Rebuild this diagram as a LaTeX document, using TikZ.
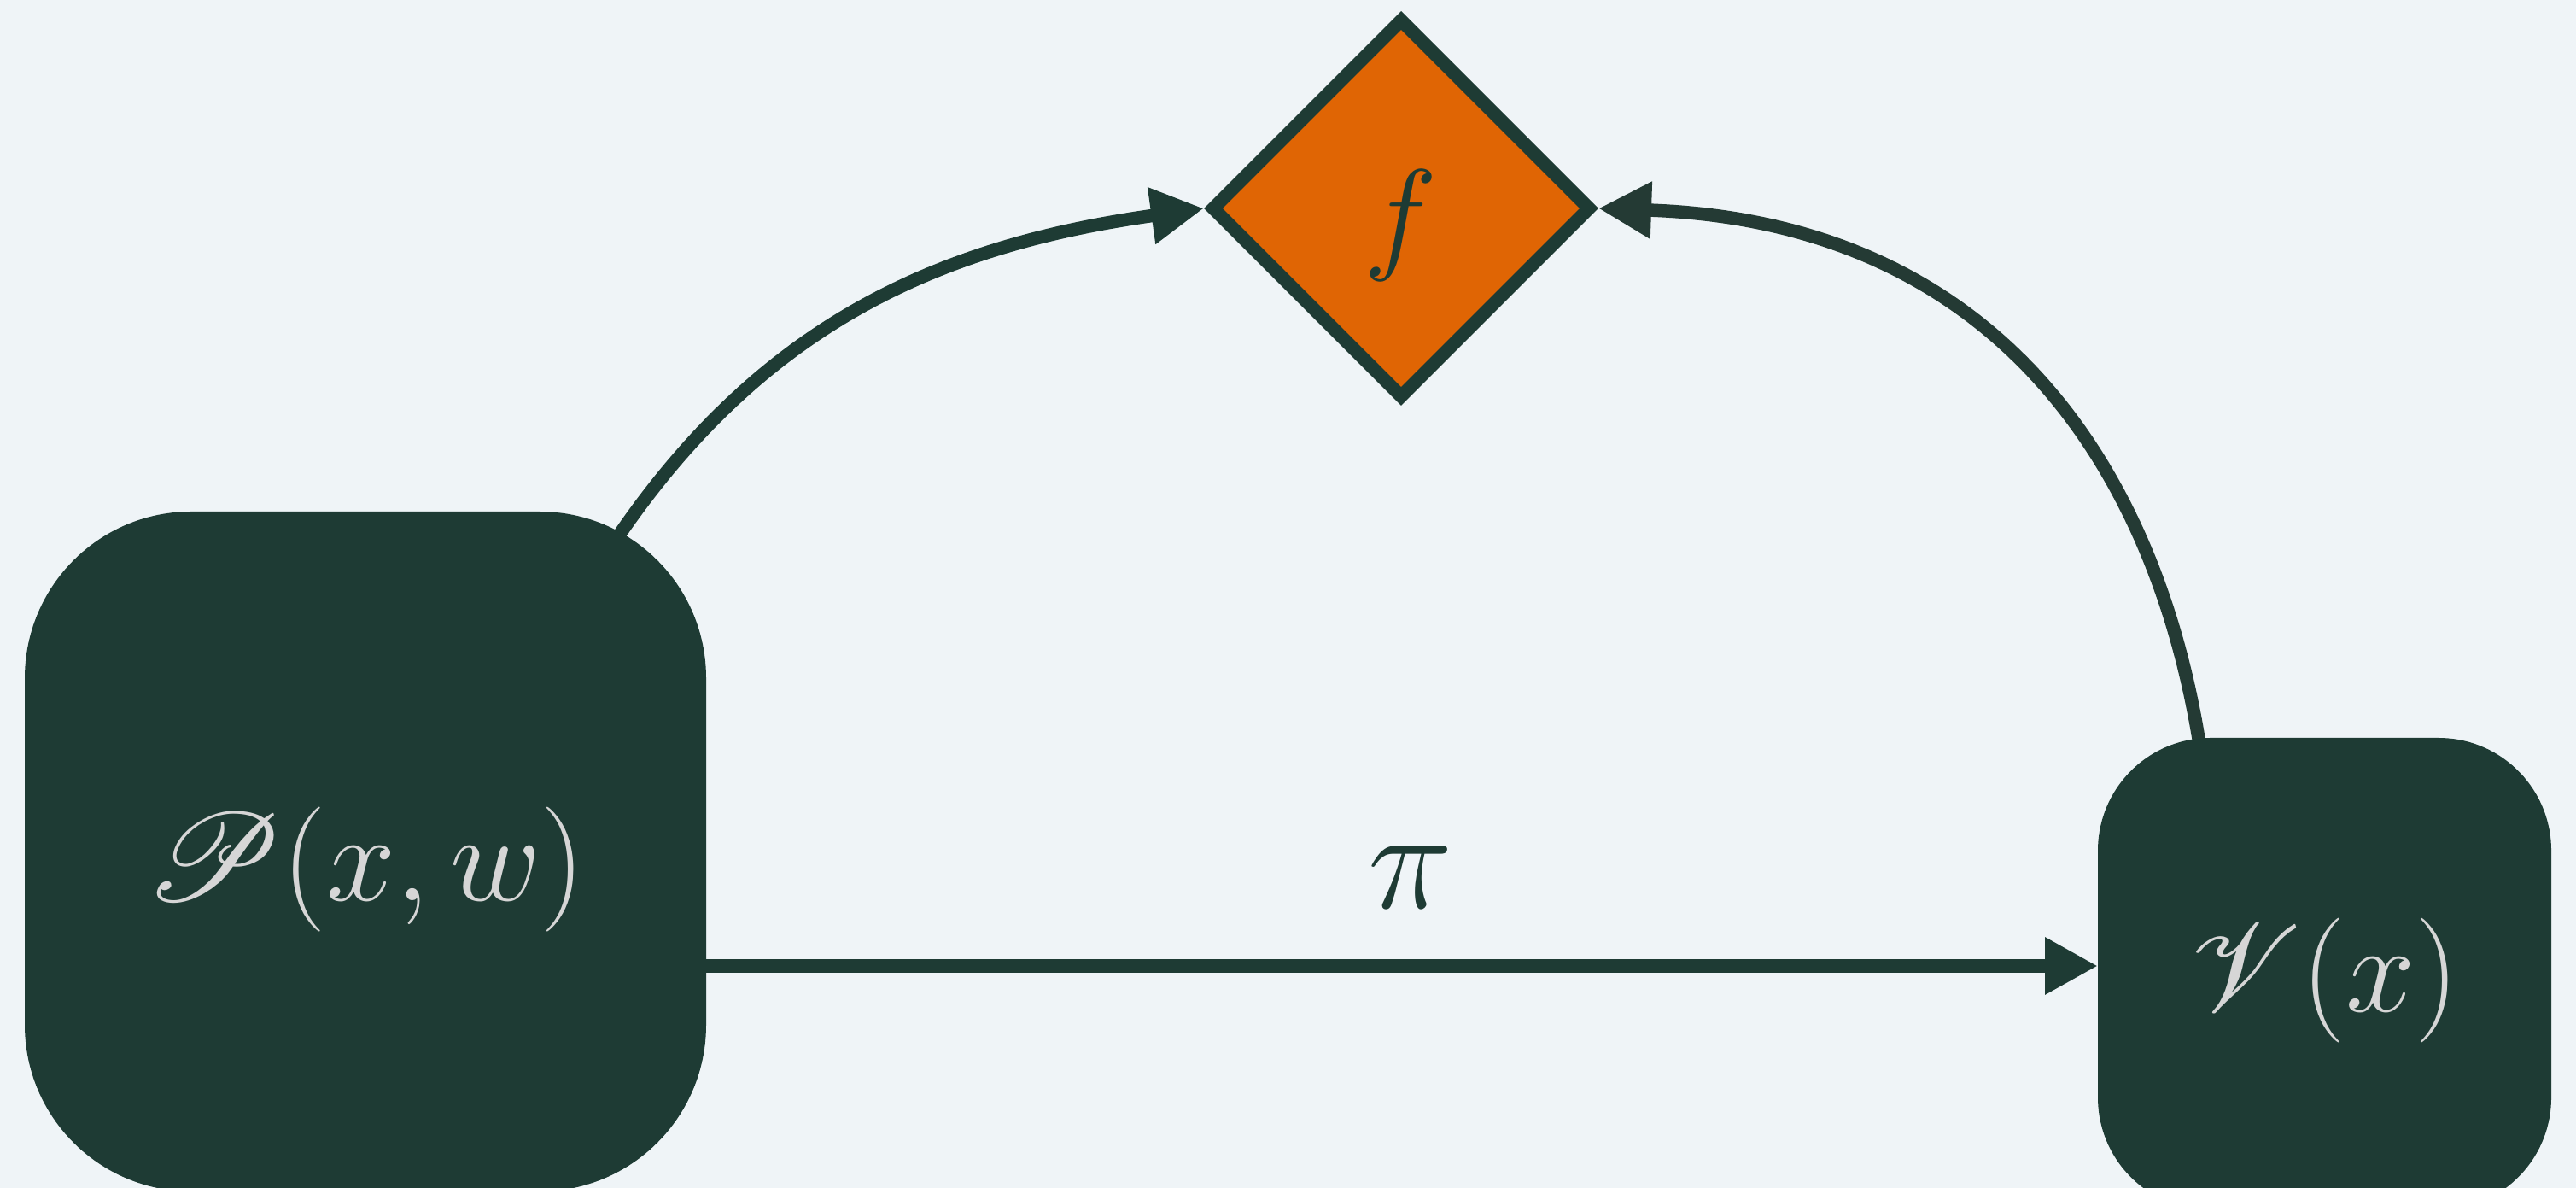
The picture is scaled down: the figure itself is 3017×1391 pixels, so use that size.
\RequirePackage{fix-cm}
\documentclass[tikz,border=0pt]{standalone}
\usepackage{fontspec}
\usepackage{mathrsfs}
\DeclareFontFamily{U}{rsfs}{\skewchar\font127 }
\DeclareFontShape{U}{rsfs}{m}{n}{<-> rsfs10}{}
\usetikzlibrary{shapes.geometric,arrows.meta,calc}
\pgfdeclarelayer{bg}
\pgfsetlayers{bg,main}
\definecolor{bgc}{HTML}{EFF4F7}
\definecolor{dk}{HTML}{1E3B34}
\definecolor{dkb}{HTML}{243A34}
\definecolor{org}{HTML}{E06504}
\definecolor{txt}{HTML}{D6D6D6}
\tikzset{
  box/.style={fill=dk, draw=none, inner sep=0pt, outer sep=0pt},
  boxtext/.style={text=txt, inner sep=0pt, font=\fontsize{146}{176}\selectfont},
  decision/.style={diamond, aspect=1, fill=org, draw=dk, line width=15.5pt,
    minimum width=440pt, minimum height=440pt, inner sep=0pt, outer sep=0pt},
  conn/.style={draw=dk, line width=15.5pt, -{Triangle[length=62pt,width=63pt]}},
}
\begin{document}
\begin{tikzpicture}[x=1pt,y=1pt]
\useasboundingbox (0,0) rectangle (3017,1391);
\node[box, minimum width=798pt, minimum height=796pt, rounded corners=195pt] (P) at (428,394) {};
\node[box, minimum width=531pt, minimum height=553pt, rounded corners=132pt] (V) at (2722.5,250.5) {};
\node[boxtext] (Ptext) at ($(P.center)+(0,-21)$) {$\mathscr{P}(x, w)$};
\node[boxtext] (Vtext) at ($(V.center)+(0,-7.5)$) {$\mathscr{V}(x)$};
\node[decision] (F) at (1641,1147) {};
\node[text=dk, inner sep=0pt, font=\fontsize{146}{170}\selectfont] (Ftext) at ($(F.center)+(0,-20)$) {$f$};
\begin{pgfonlayer}{bg}
\fill[bgc] (0,0) rectangle (3017,1391);
\draw[conn] ([xshift=292pt,yshift=-35pt]P.north) to[out=56,in=188,looseness=1] ([xshift=-11pt]F.west);
\draw[conn, draw=dkb] ([xshift=-146pt,yshift=-10pt]V.north) .. controls ($(V.north)+(-199.2,325.8)$) and ($(F.east)+(470.7,-16)$) .. ([xshift=11pt]F.east);
\draw[conn] (P.east |- 0,260) -- node[midway, xshift=10pt, yshift=104pt, text=dk, inner sep=0pt, font=\fontsize{168}{200}\selectfont] (pilab) {$\pi$} (V.west |- 0,260);
\end{pgfonlayer}
\end{tikzpicture}
\end{document}
